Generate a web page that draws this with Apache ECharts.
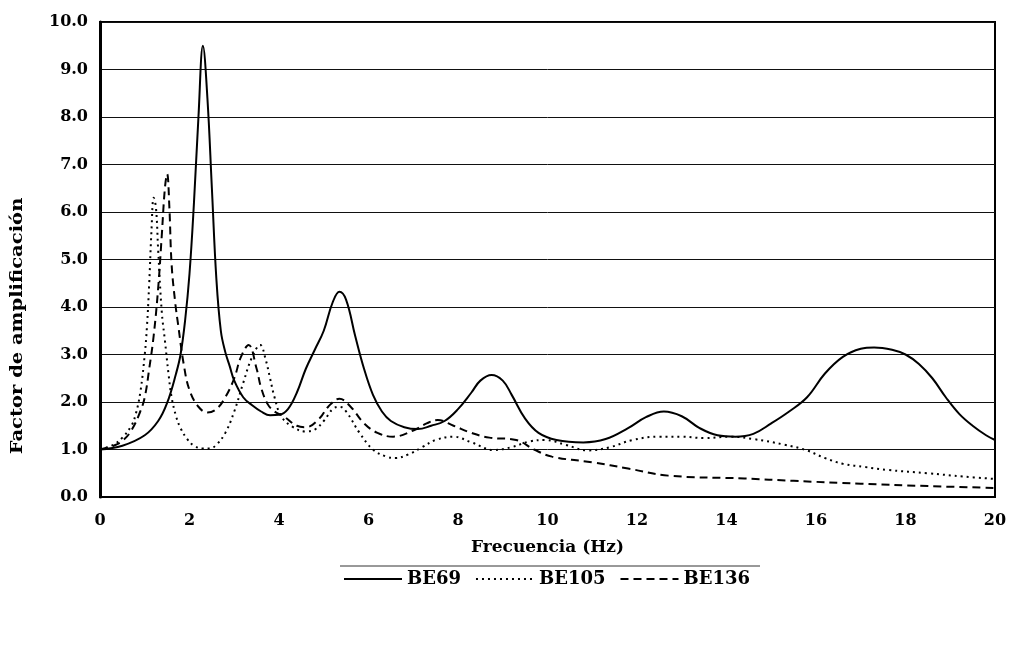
<!DOCTYPE html>
<html>
<head>
<meta charset="utf-8">
<script src="https://cdn.jsdelivr.net/npm/echarts@6/dist/echarts.min.js"></script>
<style>
  html, body { margin: 0; padding: 0; background: #fff; }
  #main { width: 1017px; height: 649px; }
</style>
</head>
<body>
<div id="main"></div>
<script>
const seriesNames = ['BE69', 'BE105', 'BE136'];

const freqBE69 = [0, 0.5, 1.0, 1.3, 1.5, 1.7, 1.8, 1.9, 2.0, 2.1, 2.2, 2.3, 2.4, 2.5, 2.6, 2.7, 2.8, 2.9, 3.0, 3.2, 3.4, 3.6, 3.8, 4.0, 4.2, 4.4, 4.6, 4.8, 5.0, 5.2, 5.35, 5.5, 5.7, 5.9, 6.1, 6.3, 6.5, 6.8, 7.1, 7.4, 7.7, 8.0, 8.3, 8.5, 8.75, 9.0, 9.2, 9.5, 9.8, 10.2, 10.8, 11.3, 11.8, 12.2, 12.6, 13.0, 13.4, 13.8, 14.2, 14.6, 15.0, 15.4, 15.8, 16.2, 16.6, 17.0, 17.3, 17.7, 18.0, 18.3, 18.6, 18.9, 19.2, 19.5, 19.8, 20];
const ampBE69 = [1.0, 1.08, 1.3, 1.6, 1.98, 2.6, 3.0, 3.7, 4.7, 6.2, 8.0, 9.5, 8.4, 6.5, 4.6, 3.5, 3.05, 2.75, 2.45, 2.1, 1.93, 1.8, 1.72, 1.73, 1.85, 2.2, 2.7, 3.1, 3.5, 4.1, 4.32, 4.15, 3.4, 2.7, 2.15, 1.8, 1.6, 1.47, 1.43, 1.5, 1.6, 1.85, 2.2, 2.45, 2.57, 2.45, 2.15, 1.65, 1.35, 1.2, 1.15, 1.22, 1.45, 1.68, 1.8, 1.7, 1.45, 1.3, 1.27, 1.33, 1.55, 1.8, 2.1, 2.6, 2.95, 3.12, 3.15, 3.1, 3.0, 2.8, 2.5, 2.1, 1.75, 1.5, 1.3, 1.2];

const freqBE105 = [0, 0.3, 0.5, 0.7, 0.8, 0.9, 1.0, 1.05, 1.1, 1.15, 1.2, 1.25, 1.3, 1.38, 1.45, 1.53, 1.6, 1.7, 1.8, 1.95, 2.1, 2.3, 2.45, 2.6, 2.8, 3.0, 3.2, 3.4, 3.58, 3.7, 3.8, 3.9, 4.05, 4.3, 4.6, 4.8, 5.0, 5.2, 5.35, 5.5, 5.8, 6.1, 6.4, 6.6, 6.9, 7.2, 7.5, 7.9, 8.3, 8.8, 9.2, 9.6, 9.95, 10.4, 10.9, 11.4, 11.9, 12.5, 13.0, 13.5, 14.1, 14.6, 15.3, 15.8, 16.2, 16.6, 17.1, 17.6, 18.5, 19.3, 20];
const ampBE105 = [1.0, 1.1, 1.25, 1.5, 1.75, 2.2, 3.0, 3.6, 4.5, 5.6, 6.3, 6.1, 5.2, 3.9, 3.3, 2.6, 2.1, 1.7, 1.45, 1.22, 1.08, 1.02, 1.02, 1.1, 1.35, 1.8, 2.4, 2.95, 3.2, 2.9, 2.5, 2.1, 1.7, 1.48, 1.38, 1.42, 1.6, 1.85, 1.9, 1.8, 1.35, 1.0, 0.85, 0.82, 0.9, 1.05, 1.2, 1.27, 1.15, 0.99, 1.05, 1.17, 1.2, 1.1, 0.98, 1.05, 1.2, 1.27, 1.27, 1.24, 1.27, 1.22, 1.1, 0.98, 0.82, 0.7, 0.63, 0.57, 0.5, 0.43, 0.38];

const freqBE136 = [0, 0.3, 0.5, 0.7, 0.9, 1.0, 1.1, 1.2, 1.3, 1.38, 1.45, 1.5, 1.55, 1.6, 1.68, 1.75, 1.87, 2.0, 2.2, 2.4, 2.6, 2.8, 3.0, 3.15, 3.32, 3.5, 3.6, 3.75, 3.9, 4.1, 4.4, 4.6, 4.9, 5.1, 5.35, 5.6, 5.9, 6.2, 6.55, 7.0, 7.3, 7.55, 7.9, 8.3, 8.7, 9.3, 9.7, 10.1, 11.0, 11.8, 12.7, 14.4, 15.5, 17.0, 18.5, 20];
const ampBE136 = [1.0, 1.08, 1.18, 1.4, 1.8, 2.1, 2.7, 3.4, 4.4, 5.5, 6.5, 6.8, 6.1, 4.9, 4.1, 3.6, 2.8, 2.25, 1.9, 1.78, 1.85, 2.1, 2.5, 2.95, 3.2, 2.7, 2.3, 1.95, 1.8, 1.7, 1.5, 1.47, 1.65, 1.9, 2.07, 1.9, 1.55, 1.35, 1.27, 1.4, 1.55, 1.62, 1.5, 1.35, 1.25, 1.2, 1.0, 0.85, 0.73, 0.6, 0.45, 0.39, 0.34, 0.28, 0.23, 0.19];

const font = 'DejaVu Serif';
const pairs = (xs, ys) => xs.map((x, i) => [x, ys[i]]);

const chart = echarts.init(document.getElementById('main'));

const lineSeries = (name, xs, ys, type) => ({
  name: name,
  type: 'line',
  data: pairs(xs, ys),
  smooth: 0.4,
  symbol: 'none',
  lineStyle: { color: '#000', width: 2, type: type },
  itemStyle: { color: '#000' },
  z: 3
});

chart.setOption({
  backgroundColor: '#fff',
  animation: false,
  grid: {
    left: 100, right: 22, top: 22, bottom: 152,
    show: true, borderColor: '#000', borderWidth: 2
  },
  xAxis: {
    type: 'value',
    min: 0, max: 20, interval: 2,
    name: 'Frecuencia (Hz)',
    nameLocation: 'middle',
    nameGap: 42,
    nameTextStyle: { fontFamily: font, fontWeight: 'bold', fontSize: 17, color: '#000' },
    axisLine: { lineStyle: { color: '#000', width: 2 } },
    axisTick: { show: false },
    splitLine: { show: false },
    axisLabel: { fontFamily: font, fontWeight: 'bold', fontSize: 16, color: '#000', margin: 16 }
  },
  yAxis: {
    type: 'value',
    min: 0, max: 10, interval: 1,
    axisLine: { show: true, lineStyle: { color: '#000', width: 3 } },
    axisTick: { show: false },
    splitLine: { lineStyle: { color: '#111', width: 1 } },
    axisLabel: {
      fontFamily: font, fontWeight: 'bold', fontSize: 16, color: '#000', margin: 12,
      formatter: v => v.toFixed(1)
    }
  },
  legend: {
    data: seriesNames,
    bottom: 56,
    left: 338,
    itemWidth: 58,
    itemHeight: 10,
    itemGap: 14,
    itemStyle: { opacity: 0 },
    textStyle: { fontFamily: font, fontWeight: 'bold', fontSize: 18, color: '#000' }
  },
  graphic: [
    {
      type: 'text',
      x: 18, y: 326,
      rotation: Math.PI / 2,
      scaleX: 1.15,
      style: {
        text: 'Factor de amplificación',
        font: 'bold 17px "DejaVu Serif"',
        fill: '#000',
        align: 'center',
        verticalAlign: 'middle'
      }
    },
    {
      type: 'line',
      shape: { x1: 340, y1: 566, x2: 760, y2: 566 },
      style: { stroke: '#333', lineWidth: 1 }
    }
  ],
  series: [
    lineSeries(seriesNames[0], freqBE69, ampBE69, 'solid'),
    lineSeries(seriesNames[1], freqBE105, ampBE105, [2, 4]),
    lineSeries(seriesNames[2], freqBE136, ampBE136, [8, 5])
  ]
});
</script>
</body>
</html>
